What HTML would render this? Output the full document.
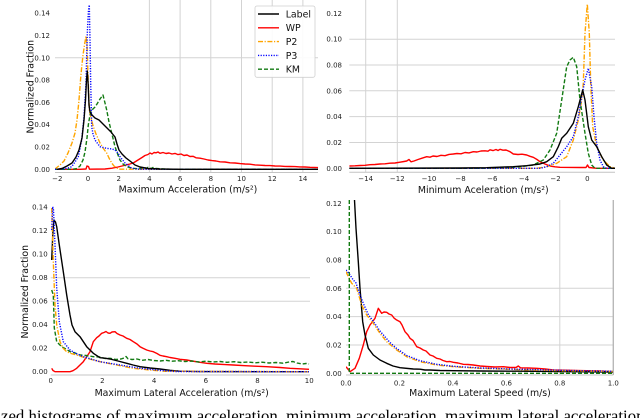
<!DOCTYPE html>
<html><head><meta charset="utf-8">
<style>
html,body{margin:0;padding:0;background:#fff;}
svg{display:block;}
.tk{font-family:"DejaVu Sans","Liberation Sans",sans-serif;font-size:7px;fill:#222;}
.lb{font-family:"DejaVu Sans","Liberation Sans",sans-serif;font-size:9.4px;fill:#111;}
.grid{stroke:#d3d3d3;stroke-width:1;fill:none;}
.spine{stroke:#c4c4c4;stroke-width:1;fill:none;}
.c{fill:none;stroke-width:1.4;stroke-linejoin:round;}
.k{stroke:#000;}
.r{stroke:#ff0000;}
.o{stroke:#ffa500;stroke-dasharray:5,1.6,1.2,1.6;}
.b{stroke:#0000ff;stroke-dasharray:1.2,1.4;}
.g{stroke:#127a12;stroke-dasharray:4,2;}
</style></head><body>
<svg width="640" height="418" viewBox="0 0 640 418" xmlns="http://www.w3.org/2000/svg">
<defs>
<clipPath id="cTL"><rect x="55" y="0" width="263" height="172.5"/></clipPath>
<clipPath id="cTR"><rect x="349.3" y="0" width="266" height="172.5"/></clipPath>
<clipPath id="cBL"><rect x="50.7" y="200" width="259" height="175"/></clipPath>
<clipPath id="cBR"><rect x="346" y="200" width="267.3" height="175"/></clipPath>
</defs>

<!-- ============ TOP LEFT ============ -->
<g>
<line class="grid" x1="55" y1="57.8" x2="318" y2="57.8"/>
<line class="grid" x1="149.4" y1="0" x2="149.4" y2="172.5"/>
<line class="grid" x1="180.1" y1="0" x2="180.1" y2="172.5"/>
<line class="grid" x1="210.8" y1="0" x2="210.8" y2="172.5"/>
<line class="grid" x1="241.5" y1="0" x2="241.5" y2="172.5"/>
<line class="grid" x1="272.2" y1="0" x2="272.2" y2="172.5"/>
<line class="grid" x1="302.9" y1="0" x2="302.9" y2="172.5"/>
<line class="spine" x1="55" y1="172.5" x2="318" y2="172.5"/>
<g clip-path="url(#cTL)">
<path class="c r" d="M55,169.3 L80,169.3 L86,169 L87,166 L88.5,166.5 L89.5,169.2 L105,169 L112,168.2 L118,167 L124,165.5 L130,164 L134,162.5 L138,160 L142,157.5 L145,155.5 L148,154.5 L150,153 L152,154 L154,152.5 L156,152.8 L158,152 L160,153.3 L163,152.5 L166,153.5 L169,153 L172,154 L175,153.4 L178,154.6 L181,154 L184,155.5 L187,155 L190,156.5 L193,156.3 L196,157.8 L200,158.2 L204,159 L208,160 L212,160.6 L216,161 L220,161.8 L225,162 L230,162.8 L235,163 L240,163.6 L245,164 L250,164.2 L255,164.9 L260,165.2 L265,165.5 L270,165.6 L275,166 L280,166.1 L285,166.4 L290,166.5 L295,166.6 L300,166.9 L305,167 L310,167.3 L318,167.6"/>
<path class="c o" d="M55,169 L60,165 L64,161 L68,153 L72,143 L75,133 L77,120 L79,100 L80.5,80 L81.7,67 L83,55 L84.5,45 L86,36 L87,45 L88,75 L89.3,110 L91,118 L93.3,126.7 L96,134 L100,143 L103,148 L106.7,153 L109,158 L111.7,163 L114,166 L116.7,168 L120,169.2 L318,169.3"/>
<path class="c g" d="M55,169.3 L72,169.3 L77,168.5 L80,166 L83,160 L85,152 L87,138 L88.3,125 L90,115 L92,110 L95,107 L97,104 L100,99 L103,95 L105,103 L106.7,110 L109,122 L111.7,133 L115,146.7 L118,155 L120,160 L123,164 L126.7,166.7 L133,168.3 L138,168.8 L142,168 L144,167 L146,168.5 L148,167.3 L151,168.6 L153,167.5 L156,168.5 L160,168.8 L170,169.2 L318,169.3"/>
<path class="c b" d="M55,169.3 L63,169 L68,168 L71.7,166.7 L75,162 L78.3,156.7 L81.7,140 L84,117 L86,83 L87.3,33 L88.5,10 L89.3,5 L90,40 L90.7,83 L91.7,126.7 L93,134 L95,140 L100,146.7 L106.7,148.3 L112,149 L115,150 L118,153 L120,156.7 L125,163 L131.7,168.3 L140,169.3 L318,169.3"/>
<path class="c k" d="M57,169.3 L62,168.5 L67,166 L72,163 L76,157 L79,150 L82,138 L84,120 L85.5,100 L86.5,80 L87.3,71 L88.2,85 L89,105 L90,112 L92,115 L95,118 L99,120 L103,124 L107,128 L111,132 L115,137 L117,144 L119,150 L122,154 L126,158 L130,161 L135,165 L140,167 L148,168.5 L160,169 L180,169.3 L318,169.3"/>
</g>
<g class="tk" text-anchor="end">
<text x="50" y="171.8">0.00</text>
<text x="50" y="149.5">0.02</text>
<text x="50" y="127.2">0.04</text>
<text x="50" y="104.9">0.06</text>
<text x="50" y="82.6">0.08</text>
<text x="50" y="60.3">0.10</text>
<text x="50" y="38">0.12</text>
<text x="50" y="15.7">0.14</text>
</g>
<g class="tk" text-anchor="middle">
<text x="57.3" y="181">−2</text>
<text x="88" y="181">0</text>
<text x="118.7" y="181">2</text>
<text x="149.4" y="181">4</text>
<text x="180.1" y="181">6</text>
<text x="210.8" y="181">8</text>
<text x="241.5" y="181">10</text>
<text x="272.2" y="181">12</text>
<text x="302.9" y="181">14</text>
</g>
<text class="lb" x="188" y="192.5" text-anchor="middle">Maximum Acceleration (m/s²)</text>
<text class="lb" transform="translate(33.5,86.7) rotate(-90)" text-anchor="middle">Normalized Fraction</text>
<rect x="255" y="6" width="60" height="71.3" rx="2" ry="2" fill="#fff" fill-opacity="0.9" stroke="#d0d0d0" stroke-width="0.8"/>
<line class="c k" x1="258" y1="14" x2="279" y2="14"/>
<line class="c r" x1="258" y1="27.8" x2="279" y2="27.8"/>
<line class="c o" x1="258" y1="41.6" x2="279" y2="41.6"/>
<line class="c b" x1="258" y1="55.4" x2="279" y2="55.4"/>
<line class="c g" x1="258" y1="69.2" x2="279" y2="69.2"/>
<g class="lb">
<text x="285.7" y="17.4">Label</text>
<text x="285.7" y="31.2">WP</text>
<text x="285.7" y="45">P2</text>
<text x="285.7" y="58.8">P3</text>
<text x="285.7" y="72.6">KM</text>
</g>
</g>

<!-- ============ TOP RIGHT ============ -->
<g>
<line class="grid" x1="349.3" y1="142.5" x2="615" y2="142.5"/>
<line class="grid" x1="349.3" y1="116.6" x2="615" y2="116.6"/>
<line class="grid" x1="349.3" y1="90.8" x2="615" y2="90.8"/>
<line class="grid" x1="349.3" y1="65" x2="615" y2="65"/>
<line class="grid" x1="349.3" y1="39.2" x2="615" y2="39.2"/>
<line class="grid" x1="365.7" y1="0" x2="365.7" y2="172.5"/>
<line class="grid" x1="397.3" y1="0" x2="397.3" y2="172.5"/>
<line class="spine" x1="349.3" y1="172.3" x2="615" y2="172.3"/>
<g clip-path="url(#cTR)">
<path class="c r" d="M349.3,166 L355,165.8 L360,165.5 L365,165.3 L370,164.7 L375,164.5 L380,164 L385,163.8 L390,163.2 L395,163 L400,162.2 L404,161.5 L406.7,161 L409,159.5 L411,161.8 L414,161 L418,159.5 L422,158.2 L426.7,156.7 L430,157.2 L433,156 L437,156.5 L441,155.3 L445,155.7 L449,154.4 L453.3,154 L457,153.5 L461,153.8 L465,152.5 L469,152.9 L473.3,151.7 L477,152 L481,151 L485,150.8 L488,151.2 L490,149.8 L493,150.6 L496,149.5 L498,150.5 L500,149.3 L503,150.2 L506,150 L510,151.7 L513.3,154 L518,154.5 L522,154.2 L526.7,155 L530,156.3 L533.3,157.3 L537,159.5 L540,161.7 L545,164 L550,166 L555,166.8 L560,167.3 L570,167.4 L580,167.5 L586,167.5 L587.5,165 L589,167.5 L596.7,168.3 L615,168.3"/>
<path class="c o" d="M349.3,168.3 L536.7,168.3 L546.7,166.7 L556.7,163.3 L566.7,156.7 L573.3,140 L578.3,120 L581.7,100 L583.3,83.3 L585,33.3 L587.3,4 L589.3,33.3 L590.7,83.3 L592.7,126.7 L596.7,146.7 L603.3,160 L610,166.7 L615,168.3"/>
<path class="c g" d="M349.3,168.3 L480,168.3 L510,167.5 L520,166.7 L533.3,165 L543.3,160 L550,150 L556.7,133.3 L561.7,100 L566.7,66.7 L570,60 L573.3,57.3 L576.7,66.7 L580,100 L585,133.3 L588.3,153.3 L591.7,165 L595,168.3 L615,168.3"/>
<path class="c b" d="M349.3,168.3 L540,168.3 L546.7,166.7 L553.3,163.3 L560,155 L566.7,146.7 L573.3,136.7 L578.3,116.7 L581.7,96.7 L585,80 L588.3,68.3 L591.7,86.7 L594,116.7 L596.7,143.3 L600,160 L603.3,166.7 L606.7,168.3 L615,168.3"/>
<path class="c k" d="M349.3,168.3 L460,168 L486.7,167.7 L513.3,166.7 L526.7,165.7 L540,164 L546.7,161.7 L553.3,156.7 L558.3,146.7 L561.7,138.3 L566.7,133.3 L573.3,123.3 L578.3,106.7 L582.7,90 L585,100 L588.3,126.7 L591.7,140 L596.7,146.7 L601.7,156.7 L606.7,165 L611.7,168.3 L615,168.3"/>
</g>
<g class="tk" text-anchor="end">
<text x="342" y="170.8">0.00</text>
<text x="342" y="145">0.02</text>
<text x="342" y="119.1">0.04</text>
<text x="342" y="93.3">0.06</text>
<text x="342" y="67.5">0.08</text>
<text x="342" y="41.7">0.10</text>
<text x="342" y="15.8">0.12</text>
</g>
<g class="tk" text-anchor="middle">
<text x="365.7" y="181">−14</text>
<text x="397.3" y="181">−12</text>
<text x="429" y="181">−10</text>
<text x="460.6" y="181">−8</text>
<text x="492.3" y="181">−6</text>
<text x="524" y="181">−4</text>
<text x="555.6" y="181">−2</text>
<text x="587.3" y="181">0</text>
</g>
<text class="lb" x="483.3" y="193" text-anchor="middle">Minimum Aceleration (m/s²)</text>
</g>

<!-- ============ BOTTOM LEFT ============ -->
<g>
<line class="grid" x1="50.7" y1="277.7" x2="310" y2="277.7"/>
<line class="grid" x1="50.7" y1="301.2" x2="310" y2="301.2"/>
<line class="spine" x1="50.7" y1="375" x2="310" y2="375"/>
<g clip-path="url(#cBL)">
<path class="c r" d="M51.7,368.3 L53,370.5 L55,371.7 L70,371.7 L73,370.7 L76.7,368.3 L80,365 L83.3,361.7 L86.5,357 L90,351.7 L93.3,341.7 L96.7,337.7 L99,336 L101.7,333.3 L104,332.5 L106,331.5 L108,333 L110,333.3 L112,332 L115,331.7 L117,333.5 L120,335 L123,336 L126.7,338.3 L130,339.5 L133.3,341.7 L137,344 L140,346.7 L143,348.3 L146.7,350 L150,351 L153.3,351.7 L157,353.5 L160,355.3 L163,356 L166.7,356.7 L170,357.5 L175,358.3 L180,359.3 L186.7,360 L192,361 L200,362.3 L206.7,363.3 L215,364 L225,364.6 L233.3,365 L245,365.7 L255,366.2 L266.7,366.7 L280,367.5 L290,368.3 L300,368.8 L309,369.3"/>
<path class="c g" d="M51.7,290 L53.3,295 L54.3,328 L56.7,341.7 L61.7,346.7 L66,349 L70,351.7 L75,353 L80,355 L86,355.5 L93.3,356.7 L100,357 L105,358.5 L110,358.3 L116,359.5 L121,359 L124,358 L126,356.5 L128,358.8 L132,359.5 L137,359 L142,360.3 L148,359.5 L154,360.5 L160,361 L166,360.3 L172,361.2 L178,360.7 L185,361.5 L192,361 L199,362 L206,361.2 L213,362 L220,361.5 L227,362.3 L234,361.7 L241,362.5 L248,362 L255,362.8 L262,362.2 L269,363 L276,362.5 L283,363.2 L289,362 L293,361.5 L297,363 L302,364 L306,363.5 L309,364"/>
<path class="c k" d="M51.7,260 L53,230 L54,220 L55.5,222 L56.7,226.7 L59.3,245 L63.3,271.7 L66.7,295 L70,315 L72,325 L75,331.7 L80,336.7 L86.7,346.7 L93.3,353.3 L100,357.7 L105,358.2 L110,359 L118,361 L126.7,363.3 L133,365 L140,366.7 L150,368 L160,369 L170,370.3 L180,371.2 L200,371.6 L309,371.7"/>
<path class="c o" d="M51.7,208 L53.3,261.7 L55,305 L56.7,325 L60,341.7 L63,348 L66.7,351.7 L71,353.5 L76.7,355 L86.7,358.3 L100,361.7 L116.7,365 L133.3,368.3 L150,370 L165,371.3 L309,371.7"/>
<path class="c b" d="M51.7,230 L52.7,206.7 L53.5,210 L55,245 L56.7,288 L59.3,321.7 L63.3,341.7 L70,350 L76,353.5 L83.3,356.7 L100,361.7 L120,365 L140,368.3 L160,370.3 L175,371.5 L309,371.7"/>
</g>
<g class="tk" text-anchor="end">
<text x="47.7" y="374.2">0.00</text>
<text x="47.7" y="350.7">0.02</text>
<text x="47.7" y="327.2">0.04</text>
<text x="47.7" y="303.7">0.06</text>
<text x="47.7" y="280.2">0.08</text>
<text x="47.7" y="256.7">0.10</text>
<text x="47.7" y="233.2">0.12</text>
<text x="47.7" y="209.7">0.14</text>
</g>
<g class="tk" text-anchor="middle">
<text x="50.7" y="383">0</text>
<text x="102.4" y="383">2</text>
<text x="154.1" y="383">4</text>
<text x="205.8" y="383">6</text>
<text x="257.5" y="383">8</text>
<text x="309.2" y="383">10</text>
</g>
<text class="lb" x="181.7" y="396" text-anchor="middle">Maximum Lateral Acceleration (m/s²)</text>
<text class="lb" transform="translate(27.8,291.7) rotate(-90)" text-anchor="middle">Normalized Fraction</text>
</g>

<!-- ============ BOTTOM RIGHT ============ -->
<g>
<line class="grid" x1="346" y1="288.3" x2="613.3" y2="288.3"/>
<line class="grid" x1="346" y1="316.6" x2="613.3" y2="316.6"/>
<line class="grid" x1="346" y1="345" x2="613.3" y2="345"/>
<line class="grid" x1="559.8" y1="200" x2="559.8" y2="375"/>
<line class="spine" x1="346" y1="375" x2="613.3" y2="375"/>
<line x1="613.3" y1="200" x2="613.3" y2="375" stroke="#b8b8b8" stroke-width="1.4"/>
<g clip-path="url(#cBR)">
<path class="c r" d="M346,366.7 L350,371.7 L355,368.3 L359.3,358.3 L363.3,345 L366.7,331.7 L370,325 L375,318.3 L378.3,308.3 L381.7,313.3 L384,312 L386.7,312.3 L389,314 L391.7,315 L394,318 L396.7,320 L400,321.7 L402,325 L405,331.7 L408,335 L410,338.3 L413,340.5 L416.7,346.7 L420,348 L423.3,350 L426,351 L430,355 L433,356 L436.7,358.3 L440,359 L443,360.5 L446.7,361.7 L450,361.5 L453.3,362.3 L458,363 L463.3,364.3 L468,364.5 L473.3,365 L480,366 L486.7,366.5 L495,367 L503.3,366.7 L510,367.5 L516,367.5 L518.3,366 L520.5,367.8 L528,368 L536.7,368.3 L545,369 L553.3,370 L565,370.2 L575,370.5 L586.7,370.7 L600,371 L613,371.7"/>
<path class="c k" d="M354.5,200 L356,228.3 L358.3,261.7 L360,288.3 L362.7,321.7 L365,335 L368.3,348.3 L373.3,355 L380,360 L386.7,363.3 L393,366 L400,367.7 L413.3,369 L420,369.2 L425,370 L430,370 L440,370.5 L453.3,370.7 L480,371 L520,371.2 L560,371.6 L613,372"/>
<path class="c o" d="M346,271.7 L348,276 L351.7,283.3 L356.7,288.3 L361.7,305 L366.7,315 L373.3,323.3 L380,333.3 L386.7,341.7 L396.7,350 L406.7,356.7 L420,361.7 L436.7,365 L453.3,366.7 L480,368.3 L510,369.3 L540,370.2 L570,370.8 L613,371.5"/>
<path class="c b" d="M346,270 L349,273.5 L353.3,280 L356,283 L360,295 L364,305 L368,314 L373,321 L380,331 L386,338 L390,342.5 L396,348 L406.7,355.5 L420,360.7 L436.7,364.3 L453.3,366.3 L480,368 L510,369 L540,369.8 L570,370.5 L613,371.3"/>
<path class="c g" d="M349.3,200 L349.3,373.3 L613,373.3"/>
</g>
<g class="tk" text-anchor="end">
<text x="341.7" y="375.8">0.00</text>
<text x="341.7" y="347.5">0.02</text>
<text x="341.7" y="319.1">0.04</text>
<text x="341.7" y="290.8">0.06</text>
<text x="341.7" y="262.5">0.08</text>
<text x="341.7" y="234.1">0.10</text>
<text x="341.7" y="205.8">0.12</text>
</g>
<g class="tk" text-anchor="middle">
<text x="346" y="385.5">0.0</text>
<text x="399.5" y="385.5">0.2</text>
<text x="452.9" y="385.5">0.4</text>
<text x="506.4" y="385.5">0.6</text>
<text x="559.8" y="385.5">0.8</text>
<text x="613.3" y="385.5">1.0</text>
</g>
<text class="lb" x="480" y="396" text-anchor="middle">Maximum Lateral Speed (m/s)</text>
</g>

<text x="1" y="421.5" font-family="'Liberation Serif',serif" font-size="16.8" fill="#000">zed histograms of maximum acceleration, minimum acceleration, maximum lateral acceleration, and</text>
</svg>
</body></html>
